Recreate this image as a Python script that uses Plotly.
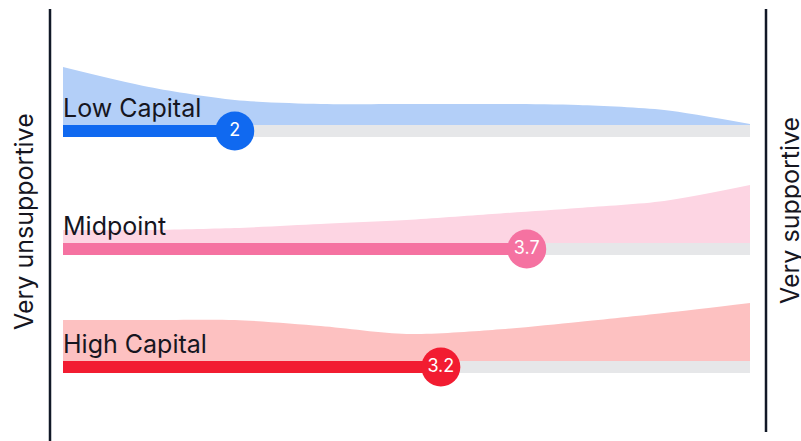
import plotly.graph_objects as go

# ---- data ----
groups = ["Low Capital", "Midpoint", "High Capital"]
means = [2.0, 3.7, 3.2]
mean_labels = ["2", "3.7", "3.2"]
scale_points = [1.0, 1.5, 2.0, 2.5, 3.0, 3.5, 4.0, 4.5, 5.0]
density_low = [58, 38, 25, 21, 21, 21, 20, 15, 1]
density_mid = [13, 13, 15, 19, 23, 29, 35, 42, 58]
density_high = [41, 41, 41, 35, 27, 31, 39, 48, 58]
densities = [density_low, density_mid, density_high]
axis_left_label = "Very unsupportive"
axis_right_label = "Very supportive"

# ---- styles ----
row_index = [2, 1, 0]
strong_colors = ["#1069f0", "#f572a1", "#f21c31"]
light_colors = ["#b3cff8", "#fdd5e3", "#fdc1c1"]
track_color = "#e6e7e9"
text_color = "#16161f"
FONT = "Inter"
W, H = 801, 441
PX = 118.0                 # pixels per row unit
DENS_SCALE = 1.0 / PX      # density unit -> y unit
BAR_W = 12 / PX
BAR_OFF = 6 / PX
SCALE_MIN, SCALE_MAX = 1, 5

fig = go.Figure()

for g, m, lab, d, r, sc, lc in zip(groups, means, mean_labels, densities,
                                    row_index, strong_colors, light_colors):
    fig.add_trace(go.Bar(
        y=[r - BAR_OFF], x=[SCALE_MAX - SCALE_MIN], base=[SCALE_MIN],
        orientation="h", width=BAR_W, marker=dict(color=track_color, line_width=0),
        showlegend=False, hoverinfo="skip"))
    fig.add_trace(go.Bar(
        y=[r - BAR_OFF], x=[m - SCALE_MIN], base=[SCALE_MIN],
        orientation="h", width=BAR_W, marker=dict(color=sc, line_width=0),
        showlegend=False, hoverinfo="skip"))
    fig.add_trace(go.Scatter(
        x=scale_points, y=[r] * len(scale_points), mode="lines",
        line=dict(width=0, color=lc), showlegend=False, hoverinfo="skip"))
    fig.add_trace(go.Scatter(
        x=scale_points, y=[r + v * DENS_SCALE for v in d], mode="lines",
        line=dict(width=0, color=lc, shape="spline", smoothing=0.8),
        fill="tonexty", fillcolor=lc, showlegend=False, hoverinfo="skip"))

for g, m, lab, r, sc in zip(groups, means, mean_labels, row_index, strong_colors):
    fig.add_trace(go.Scatter(
        x=[m], y=[r - BAR_OFF], mode="markers+text", text=[lab],
        textposition="middle center",
        textfont=dict(family=FONT, size=18, color="white"),
        marker=dict(size=39, color=sc, line=dict(width=0)),
        showlegend=False, hoverinfo="skip"))
    fig.add_annotation(
        x=SCALE_MIN, y=r, xref="x", yref="y", text=g, showarrow=False,
        xanchor="left", yanchor="bottom", xshift=-2, yshift=0,
        font=dict(family=FONT, size=25, color=text_color))

x_lo = SCALE_MIN - 63 / 171.75
x_hi = x_lo + W / 171.75
y_lo = -(H - 361) / PX
y_hi = 361 / PX

fig.update_layout(
    width=W, height=H, autosize=False,
    margin=dict(l=0, r=0, t=0, b=0),
    paper_bgcolor="white", plot_bgcolor="white",
    barmode="overlay", showlegend=False,
    xaxis=dict(range=[x_lo, x_hi], visible=False, fixedrange=True),
    yaxis=dict(range=[y_lo, y_hi], visible=False, fixedrange=True),
    shapes=[
        dict(type="line", xref="paper", yref="paper", x0=50 / W, x1=50 / W,
             y0=0, y1=1 - 9 / H, line=dict(color="#111827", width=2.5)),
        dict(type="line", xref="paper", yref="paper", x0=766 / W, x1=766 / W,
             y0=1 - 432 / H, y1=1 - 9 / H, line=dict(color="#111827", width=2.5)),
    ],
)
fig.add_annotation(x=24 / W, y=1 - 222 / H, xref="paper", yref="paper",
                   text=axis_left_label, textangle=-90, showarrow=False,
                   xanchor="center", yanchor="middle",
                   font=dict(family=FONT, size=25, color=text_color))
fig.add_annotation(x=790 / W, y=1 - 211 / H, xref="paper", yref="paper",
                   text=axis_right_label, textangle=-90, showarrow=False,
                   xanchor="center", yanchor="middle",
                   font=dict(family=FONT, size=25, color=text_color))

fig.write_html("out.html")
